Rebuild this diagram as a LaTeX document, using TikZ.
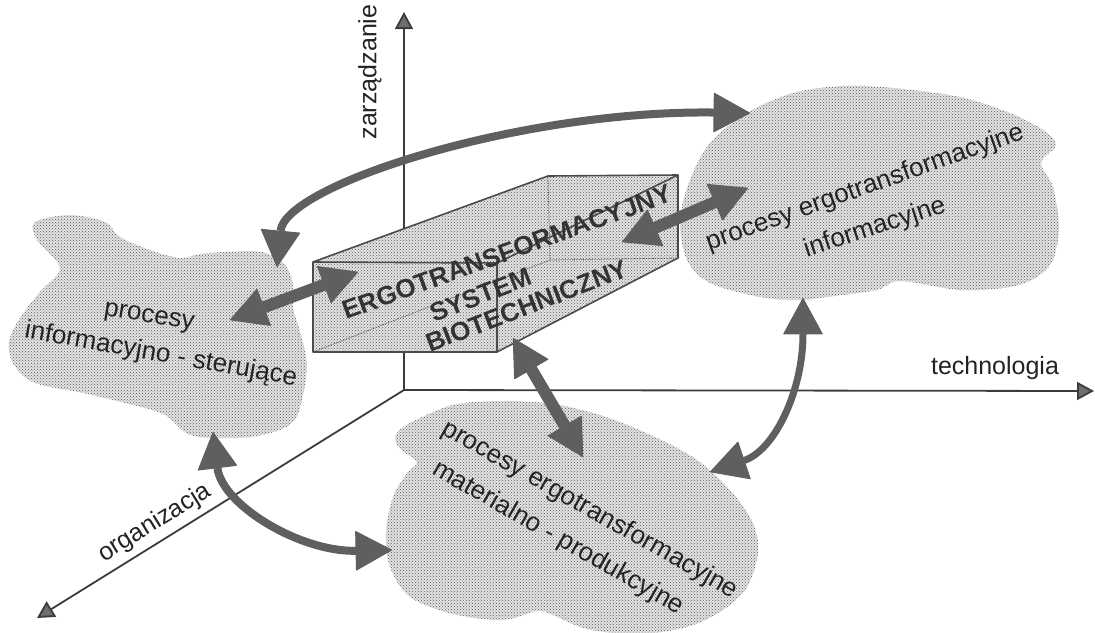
\documentclass[tikz,border=0pt]{standalone}
\usepackage{fontspec}
\setmainfont{Liberation Sans}
\usetikzlibrary{arrows.meta,patterns}
\definecolor{arrcol}{RGB}{95,95,95}
\definecolor{axcol}{RGB}{60,60,60}
\definecolor{tipcol}{RGB}{110,110,110}
\definecolor{txtcol}{RGB}{35,35,35}
\definecolor{edgecol}{RGB}{75,75,75}
\begin{document}
\begin{tikzpicture}[x=1pt,y=-1pt,
  dotfill/.style={preaction={fill=black!11}, pattern=crosshatch dots, pattern color=black!65},
  axisline/.style={draw=axcol, line width=1.8pt, -{Triangle[length=17pt,width=18pt,fill=tipcol]}},
  bigarrow/.style={draw=arrcol, line width=#1, {Triangle[length=37pt,width=40pt,line width=1pt,round]}-{Triangle[length=37pt,width=40pt,line width=1pt,round]}},
  cloudtxt/.style={text=txtcol, font=\fontsize{26}{30}\selectfont, inner sep=0pt},
  boxtxt/.style={text=black!80, font=\fontsize{26}{30}\selectfont\bfseries, inner sep=0pt},
  axtxt/.style={text=txtcol, font=\fontsize{25}{30}\selectfont, inner sep=0pt},
  boxedge/.style={draw=edgecol, line width=1.6pt, line join=round},
  hidden/.style={draw=edgecol, line width=0.8pt, densely dotted}
]
\useasboundingbox (0,0) rectangle (1095,632);

% axes
\coordinate (O) at (404,390);
\coordinate (Z) at (404,12);
\coordinate (T) at (1094,391);
\coordinate (G) at (37,618);
\draw[axisline] (O) -- (Z);
\draw[axisline] (O) -- (T);
\draw[axisline] (O) -- (G);

% clouds
\fill[dotfill] plot[smooth cycle, tension=0.55] coordinates {
  (35,222) (70,215) (105,222) (120,237) (150,250) (180,258) (200,254) (225,252)
  (262,252) (285,265) (293,285) (293,307) (301,335) (307,365) (303,395) (296,418)
  (280,430) (250,437) (215,438) (188,434) (165,415) (133,405) (83,393) (35,383)
  (14,365) (9,342) (20,318) (40,292) (60,270) (48,252) (36,238)};
\fill[dotfill] plot[smooth cycle, tension=0.55] coordinates {
  (710,143) (747,113) (793,93) (843,86) (893,88) (960,97) (1010,113) (1043,130)
  (1056,145) (1041,163) (1053,187) (1059,227) (1053,260) (1037,277) (1010,287)
  (960,290) (900,281) (877,290) (827,297) (800,300) (760,297) (710,283) (687,260)
  (680,220) (690,180)};
\fill[dotfill] plot[smooth cycle, tension=0.55] coordinates {
  (410,423) (453,405) (503,401) (553,404) (603,416) (653,436) (697,460) (730,490)
  (753,523) (758,553) (747,587) (723,610) (687,627) (637,634) (587,629) (553,615)
  (537,611) (503,620) (453,614) (410,597) (390,567) (386,533) (393,497) (407,473)
  (417,462) (399,448) (396,435)};

% box
\coordinate (FTL) at (313,262);
\coordinate (FTR) at (497,263);
\coordinate (FBR) at (497,352);
\coordinate (FBL) at (313,352);
\coordinate (BTL) at (548,176);
\coordinate (BTR) at (678,175);
\coordinate (BBR) at (678,258);
\coordinate (BBL) at (550,260);
\fill[dotfill] (FTL) -- (BTL) -- (BTR) -- (BBR) -- (FBR) -- (FBL) -- cycle;
\draw[hidden] (BTL) -- (BBL) -- (BBR);
\draw[hidden] (BBL) -- (FBL);
\draw[boxedge] (FTL) -- (FTR) -- (FBR) -- (FBL) -- cycle;
\draw[boxedge] (FTL) -- (BTL) -- (BTR) -- (BBR) -- (FBR);
\draw[boxedge] (FTR) -- (BTR);

% texts
\node[boxtxt, rotate=20] (b1) at (507,252) {ERGOTRANSFORMACYJNY};
\node[boxtxt, rotate=21] (b2) at (481,295) {SYSTEM};
\node[boxtxt, rotate=21] (b3) at (527,306) {BIOTECHNICZNY};

\node[cloudtxt, rotate=-9] (lc1) at (149,318) {procesy};
\node[cloudtxt, rotate=-10] (lc2) at (161,355) {informacyjno - sterujące};
\node[cloudtxt, rotate=19.5] (rc1) at (865,188) {procesy ergotransformacyjne};
\node[cloudtxt, rotate=18] (rc2) at (875,228) {informacyjne};
\node[cloudtxt, rotate=-29.5] (bc1) at (590,510) {procesy ergotransformacyjne};
\node[cloudtxt, rotate=-29.7] (bc2) at (558,538) {materialno - produkcyjne};

\node[axtxt, rotate=90] (lz) at (370,72) {zarządzanie};
\node[axtxt, anchor=base] (lt) at (995,374) {technologia};
\node[axtxt, rotate=31.7] (lo) at (155,523) {organizacja};

% connectors
\coordinate (a1s) at (277,267);
\coordinate (a1e) at (750,113);
\coordinate (a2s) at (230,320);
\coordinate (a2e) at (358,272);
\coordinate (a3s) at (622,242);
\coordinate (a3e) at (748,188);
\coordinate (a4s) at (513,338);
\coordinate (a4e) at (583,457);
\coordinate (a5s) at (803,298);
\coordinate (a5e) at (710,472);
\coordinate (a6s) at (213,432);
\coordinate (a6e) at (392,550);
\draw[bigarrow=8pt] (a1s) .. controls (285,185) and (520,110) .. (a1e);
\draw[bigarrow=12pt] (a2s) -- (a2e);
\draw[bigarrow=12pt] (a3s) -- (a3e);
\draw[bigarrow=12pt] (a4s) -- (a4e);
\draw[bigarrow=7pt] (a5s) .. controls (803,390) and (775,450) .. (a5e);
\draw[bigarrow=8pt] (a6s) .. controls (222,505) and (300,552) .. (a6e);
\end{tikzpicture}
\end{document}
